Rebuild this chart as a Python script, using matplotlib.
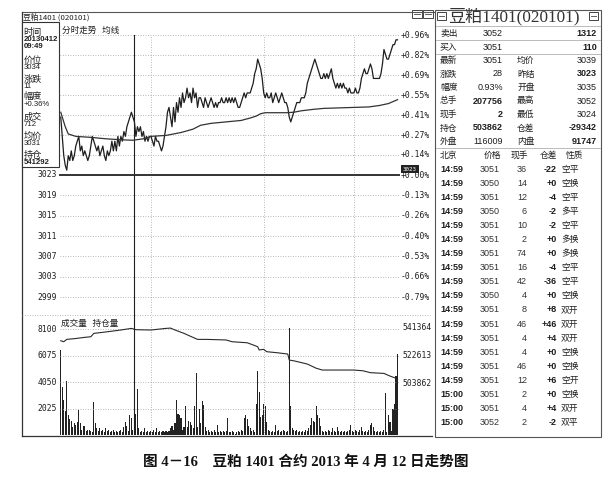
import matplotlib
matplotlib.use('Agg')
import matplotlib.pyplot as plt
from matplotlib.patches import Rectangle
from matplotlib.lines import Line2D
from matplotlib.transforms import blended_transform_factory
import numpy as np

plt.rcParams['font.family'] = ['Noto Sans CJK SC', 'DejaVu Sans']

W, H = 611, 479

# ---- data (minute index 0 = 09:00) ----
prev_settle = 3023
price = [3035, 3031, 3027, 3025, 3024, 3027, 3026, 3028, 3026, 3027, 3029, 3030, 3031, 3028, 3029,
         3027, 3028, 3027, 3026, 3027, 3029, 3031, 3030, 3029, 3028, 3029, 3027, 3028, 3029, 3027,
         3026, 3028, 3027, 3028, 3030, 3028, 3030, 3028, 3031, 3029, 3031, 3030, 3032, 3031, 3033,
         3034, 3035, 3036, 3035, 3034, 3031, 3033, 3032, 3033, 3031, 3032, 3030, 3031, 3030, 3031,
         3031, 3030, 3029, 3031, 3030, 3030, 3029, 3028, 3029, 3031, 3033, 3036, 3037, 3035, 3033,
         3037, 3034, 3038, 3036, 3039, 3037, 3040, 3038, 3039, 3041, 3039, 3040, 3038, 3041, 3039,
         3040, 3037, 3039, 3039, 3038, 3037, 3039, 3038, 3037, 3038, 3039, 3038, 3037, 3038, 3037,
         3038, 3038, 3039, 3038, 3038, 3039, 3038, 3039, 3038, 3039, 3038, 3039, 3038, 3037, 3037,
         3038, 3039, 3040, 3039, 3040, 3040, 3040, 3041, 3042, 3044, 3045, 3047, 3046, 3045, 3043,
         3040, 3039, 3040, 3039, 3039, 3040, 3038, 3039, 3040, 3039, 3038, 3039, 3040, 3039, 3038,
         3038, 3037, 3035, 3034, 3035, 3036, 3037, 3038, 3038, 3038, 3039, 3039, 3039, 3040, 3042,
         3043, 3044, 3045, 3046, 3047, 3046, 3045, 3044, 3043, 3043, 3044, 3043, 3044, 3043, 3044,
         3045, 3043, 3042, 3041, 3042, 3041, 3042, 3041, 3042, 3041, 3041, 3040, 3041, 3040, 3040,
         3040, 3041, 3040, 3040, 3041, 3043, 3044, 3045, 3044, 3044, 3045, 3046, 3045, 3043, 3043,
         3043, 3043, 3043, 3044, 3046, 3049, 3048, 3047, 3047, 3048, 3049, 3050, 3050, 3051, 3051]

avg_min = [0, 3, 5, 10, 20, 30, 40, 48, 55, 60, 70, 80, 88, 93, 100, 110, 120, 126, 130, 133,
           136, 150, 155, 160, 168, 175, 185, 195, 205, 212, 218, 224]
avg_price = [3036.0, 3033.0, 3031.5, 3031.0, 3030.8, 3030.5, 3030.3, 3030.2, 3030.5, 3031.0,
             3031.2, 3031.8, 3032.5, 3033.3, 3033.7, 3034.0, 3034.3, 3034.8, 3035.2, 3035.7,
             3035.9, 3035.9, 3036.0, 3036.3, 3036.6, 3036.8, 3036.9, 3037.0, 3037.1, 3037.4,
             3037.8, 3038.6]

volume = [6500, 3700, 2700, 1800, 4100, 1500, 1200, 1100, 600, 900, 800, 1000, 1900, 900, 400,
          700, 700, 300, 400, 400, 300, 200, 2550, 900, 500, 300, 500, 300, 400, 200,
          500, 300, 400, 200, 300, 400, 200, 300, 200, 300, 400, 200, 600, 1000, 700,
          300, 1500, 1300, 400, 600, 1600, 3500, 500, 200, 300, 200, 500, 200, 300, 200,
          300, 200, 400, 200, 500, 200, 300, 200, 300, 200, 300, 200, 300, 500, 700,
          400, 900, 2700, 1600, 1500, 1300, 400, 600, 2200, 600, 1100, 1000, 800, 500, 2200,
          4700, 600, 2000, 900, 2600, 2300, 600, 300, 400, 200, 300, 200, 400, 200, 800,
          200, 300, 200, 300, 200, 300, 1300, 200, 200, 300, 200, 100, 200, 300, 200,
          400, 300, 1300, 1500, 1200, 700, 500, 300, 400, 200, 2400, 4900, 3300, 1400, 1500,
          2400, 2200, 1000, 400, 300, 200, 300, 200, 800, 300, 400, 200, 300, 400, 300,
          200, 300, 8150, 2200, 500, 400, 300, 400, 200, 300, 200, 300, 200, 400, 300,
          500, 800, 1300, 1100, 1000, 2200, 1500, 1300, 700, 300, 200, 300, 200, 400, 300,
          200, 500, 300, 200, 600, 300, 200, 300, 200, 300, 200, 300, 400, 800, 300,
          200, 400, 300, 200, 400, 600, 300, 200, 300, 200, 400, 800, 900, 600, 300,
          200, 300, 200, 300, 200, 400, 3200, 200, 1500, 1000, 300, 2000, 2400, 4500, 6200]

oi_min = [0, 2, 4, 10, 16, 20, 22, 31, 40, 47, 50, 60, 70, 73, 76, 82, 87, 91, 97, 110,
          114, 124, 128, 131, 132, 135, 137, 144, 151, 152, 155, 164, 170, 174, 181, 195,
          201, 206, 215, 219, 223, 224]
oi_value = [532700, 532000, 533600, 534200, 535000, 535400, 537700, 538800, 540000, 541100,
            540200, 540000, 541100, 541300, 540000, 537700, 535400, 533600, 533600, 533200,
            532000, 531300, 529800, 528600, 526400, 526800, 525200, 524500, 523600, 519500,
            519000, 516800, 513900, 512700, 512700, 512700, 512200, 510900, 510400, 508600,
            507100, 506000]

cursor_min = 49
pct_up = ['+0.96%', '+0.82%', '+0.69%', '+0.55%', '+0.41%', '+0.27%', '+0.14%', '+0.00%']
price_low = [3019, 3015, 3011, 3007, 3003, 2999]
pct_low = ['-0.13%', '-0.26%', '-0.40%', '-0.53%', '-0.66%', '-0.79%']
vol_ticks = [2025, 4050, 6075, 8100]
oi_ticks = [503862, 522613, 541364]

info_labels = ['时间', '价位', '涨跌', '幅度', '成交', '均价', '持仓']
info_values = ['20130412', '3034', '11', '+0.36%', '712', '3031', '541292']
info_time = '09:49'

quote_names = ['卖出', '买入', '最新', '涨跌', '幅度', '总手', '现手', '持仓', '外盘']
quote_vals = ['3052', '3051', '3051', '28', '0.93%', '207756', '2', '503862', '116009']
quote_names2 = ['', '', '均价', '昨结', '开盘', '最高', '最低', '仓差', '内盘']
quote_vals2 = ['1312', '110', '3039', '3023', '3035', '3052', '3024', '-29342', '91747']

trade_head = ['北京', '价格', '现手', '仓差', '性质']
trade_time = ['14:59'] * 16 + ['15:00'] * 3
trade_price = [3051, 3050, 3051, 3050, 3051, 3051, 3051, 3051, 3051, 3050,
               3051, 3051, 3051, 3051, 3051, 3051, 3051, 3051, 3052]
trade_vol = [36, 14, 12, 6, 10, 2, 74, 16, 42, 4, 8, 46, 4, 4, 46, 12, 2, 4, 2]
trade_chg = ['-22', '+0', '-4', '-2', '-2', '+0', '+0', '-4', '-36', '+0',
             '+8', '+46', '+4', '+0', '+0', '+6', '+0', '+4', '-2']
trade_kind = ['空平', '空换', '空平', '多平', '空平', '多换', '多换', '空平', '空平', '空换',
              '双开', '双开', '双开', '空换', '空换', '空开', '空换', '双开', '双平']

title_small = '豆粕1401 (020101)'
title_big = '豆粕1401(020101)'
chart_head = '分时走势   均线'
vol_head = '成交量   持仓量'
caption = '图 4－16　豆粕 1401 合约 2013 年 4 月 12 日走势图'


# ---- helpers: pixel positions -> figure fractions ----
def fx(x):
    return x / W


def fy(y):
    return 1 - y / H


def rect(x0, y0, x1, y1):
    return [x0 / W, 1 - y1 / H, (x1 - x0) / W, (y1 - y0) / H]


fig = plt.figure(figsize=(6.11, 4.79), dpi=100)
fig.patch.set_facecolor('white')

INK = '#1e1e1e'
GRID = '#a0a0a0'
DOT = (0, (1, 2))
MONO = ['DejaVu Sans Mono', 'Noto Sans CJK SC']
ARIAL = ['Liberation Sans', 'Noto Sans CJK SC']


def hline(x0, x1, y, **kw):
    fig.add_artist(Line2D([fx(x0), fx(x1)], [fy(y), fy(y)], **kw))


def vline(x, y0, y1, **kw):
    fig.add_artist(Line2D([fx(x), fx(x)], [fy(y0), fy(y1)], **kw))


ax_up = fig.add_axes(rect(60, 35, 399, 175))
ax_lo = fig.add_axes(rect(60, 175, 399, 315))
ax_vol = fig.add_axes(rect(60, 315, 399, 435))
ax_oi = ax_vol.twinx()

for ax in (ax_up, ax_lo, ax_vol, ax_oi):
    ax.set_axis_off()
    ax.set_xlim(-0.5, 225)

ax_up.set_ylim(prev_settle, 3052)
ax_lo.set_ylim(2995.46, prev_settle)
ax_vol.set_ylim(0, 9170)
ax_oi.set_ylim(468406, 550228)

up_grid = np.linspace(prev_settle, 3052, len(pct_up))[::-1]

# grids
for p in up_grid[:-1]:
    ax_up.axhline(p, color=GRID, lw=0.6, ls=DOT)
for p in price_low:
    ax_lo.axhline(p, color=GRID, lw=0.6, ls=DOT)
for v in vol_ticks:
    ax_vol.axhline(v, color=GRID, lw=0.6, ls=DOT)
for ax in (ax_up, ax_lo, ax_vol):
    for m in (60, 135, 195):
        ax.axvline(m, color=GRID, lw=0.6, ls=DOT)
    ax.axvline(cursor_min, color=INK, lw=0.8)
ax_up.axhline(prev_settle, color='#333333', lw=1.4, clip_on=False)

# price and average lines
ax_up.plot(np.arange(len(price)), price, color=INK, lw=0.9, clip_on=False)
ax_up.plot(avg_min, avg_price, color='#333333', lw=0.9)

# volume bars and open interest
ax_vol.bar(np.arange(len(volume)), volume, width=0.7, color='#222222', lw=0)
ax_oi.plot(oi_min, oi_value, color='#2a2a2a', lw=0.8)


# axis labels
def ylab(ax, px, val, s, ha, **kw):
    t = blended_transform_factory(fig.transFigure, ax.transData)
    ax.text(fx(px), val, s, transform=t, ha=ha, va='center', clip_on=False,
            color=INK, family=MONO, fontsize=5.8, **kw)


for p, s in zip(up_grid, pct_up):
    ylab(ax_up, 401, p, s, 'left')
ylab(ax_lo, 57, prev_settle, str(prev_settle), 'right')
for p, s in zip(price_low, pct_low):
    ylab(ax_lo, 57, p, str(p), 'right')
    ylab(ax_lo, 401, p, s, 'left')
for v in vol_ticks:
    ylab(ax_vol, 57, v, str(v), 'right')
for v in oi_ticks:
    ylab(ax_oi, 403, v, str(v), 'left')

# small black price flag at the settle line
fig.add_artist(Rectangle((fx(401), fy(173)), 18 / W, 8 / H, transform=fig.transFigure,
                         fc='#222222', ec='none', zorder=5))
fig.text(fx(410), fy(169), str(prev_settle), color='white', fontsize=4.2, family=MONO,
         ha='center', va='center', zorder=6)

# frame of the left chart
hline(22, 435, 12, color='#555555', lw=0.8)
vline(22, 12, 436, color='#333333', lw=0.9)
hline(22, 432, 435.5, color='#333333', lw=0.9)
hline(22, 430, 315, color=GRID, lw=0.6, ls=DOT)
fig.text(fx(23), fy(17.5), title_small, fontsize=5.6, color=INK, va='center')
fig.text(fx(62), fy(30), chart_head, fontsize=6.2, color=INK, va='center')
fig.text(fx(61), fy(323), vol_head, fontsize=6.2, color=INK, va='center')

# small window icons
for x0 in (412, 423):
    fig.add_artist(Rectangle((fx(x0), fy(18)), 10 / W, 8 / H, transform=fig.transFigure,
                             fc='white', ec='#444444', lw=0.7))
    hline(x0 + 2, x0 + 8, 14, color='#444444', lw=0.6)

# info box
fig.add_artist(Rectangle((fx(22), fy(167)), 37 / W, 145 / H, transform=fig.transFigure,
                         fc='white', ec='#333333', lw=0.8, zorder=5))
lab_y = [32, 60, 79, 97, 117, 136, 155]
for lab, val, y in zip(info_labels, info_values, lab_y):
    fig.text(fx(23.5), fy(y), lab, fontsize=6.6, color=INK, va='center', zorder=6)
    fig.text(fx(23.5), fy(y + 7.5), val, fontsize=5.6, color=INK, va='center', zorder=6,
             family=ARIAL, weight='bold' if val in ('20130412', '541292') else 'normal')
fig.text(fx(23.5), fy(46.5), info_time, fontsize=5.6, color=INK, va='center', zorder=6,
         family=ARIAL, weight='bold')

# ---- quote panel on the right ----
fig.add_artist(Rectangle((fx(435), fy(437)), 166 / W, 427 / H, transform=fig.transFigure,
                         fc='white', ec='#555555', lw=0.8))
fig.text(fx(448), fy(17), title_big, fontsize=12.3, color='#333333', va='center',
         family=['Liberation Serif', 'Noto Sans CJK SC'])
for x0 in (437, 589):
    fig.add_artist(Rectangle((fx(x0), fy(20)), 9 / W, 8 / H, transform=fig.transFigure,
                             fc='white', ec='#444444', lw=0.7))
    hline(x0 + 2, x0 + 7, 16, color='#444444', lw=0.6)
for y in (26, 40, 53.5, 148):
    hline(436, 600, y, color='#b0b0b0', lw=0.6)

row_y = [33, 47, 60.5, 74, 87.5, 101, 114.5, 128, 141.5]
bold_vals = {'207756', '2', '503862'}
bold_vals2 = {'1312', '110', '3023', '-29342', '91747'}
for n1, v1, n2, v2, y in zip(quote_names, quote_vals, quote_names2, quote_vals2, row_y):
    fig.text(fx(440), fy(y), n1, fontsize=6.3, color=INK, va='center')
    fig.text(fx(503), fy(y), v1, fontsize=6.5, color=INK, va='center', ha='right',
             family=ARIAL, weight='bold' if v1 in bold_vals and n1 != '买入' else 'normal')
    if n2:
        fig.text(fx(517), fy(y), n2, fontsize=6.3, color=INK, va='center')
    fig.text(fx(597), fy(y), v2, fontsize=6.5, color=INK, va='center', ha='right',
             family=ARIAL, weight='bold' if v2 in bold_vals2 else 'normal')

head_x = [440, 484, 511, 540, 566]
for s, x in zip(trade_head, head_x):
    fig.text(fx(x), fy(155), s, fontsize=6.3, color=INK, va='center')

for i in range(len(trade_time)):
    y = 169 + 14.1 * i
    fig.text(fx(440), fy(y), trade_time[i], fontsize=6.5, color=INK, va='center',
             family=ARIAL, weight='bold')
    fig.text(fx(500), fy(y), str(trade_price[i]), fontsize=6.5, color='#333333',
             va='center', ha='right', family=ARIAL)
    fig.text(fx(527), fy(y), str(trade_vol[i]), fontsize=6.5, color='#333333',
             va='center', ha='right', family=ARIAL)
    fig.text(fx(557), fy(y), trade_chg[i], fontsize=6.5, color=INK, va='center',
             ha='right', family=ARIAL, weight='bold')
    fig.text(fx(561), fy(y), trade_kind[i], fontsize=6.3, color=INK, va='center')

# caption
fig.text(fx(306), fy(462), caption, fontsize=10.5, color='#111111', ha='center', va='center',
         weight='bold', family=['Liberation Serif', 'Noto Sans CJK SC'])

fig.savefig('out.png', dpi=100, facecolor='white')
